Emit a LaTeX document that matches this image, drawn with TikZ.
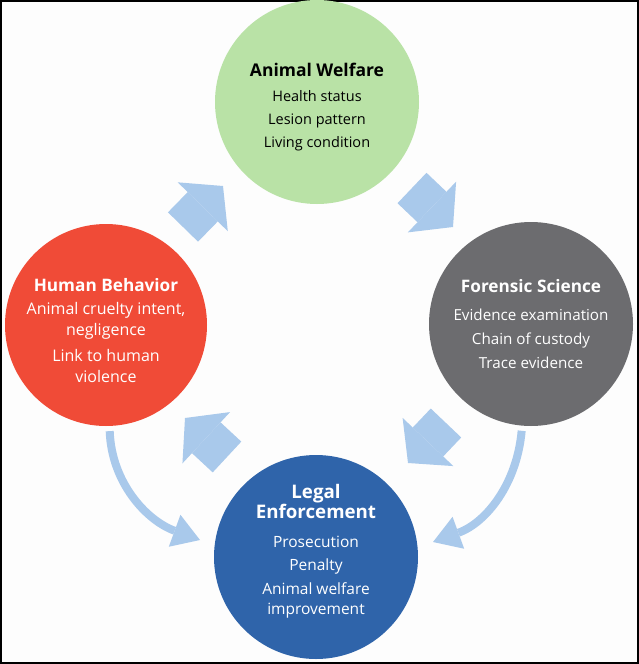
\documentclass[tikz,border=0pt]{standalone}
\usepackage{fontspec}
\setmainfont{Open Sans}
\usetikzlibrary{arrows.meta}
\definecolor{awgreen}{HTML}{B9E2A6}
\definecolor{hbred}{HTML}{F04B37}
\definecolor{fsgray}{HTML}{6C6C6F}
\definecolor{leblue}{HTML}{2F64AA}
\definecolor{arrowblue}{HTML}{A9C9EB}
\definecolor{bgwhite}{HTML}{FDFDFD}
% bold title line of a circle: size, text
\newcommand{\circtitle}[2]{{\bfseries\fontsize{#1}{#1}\selectfont #2}}
\tikzstyle{circ} = [circle, minimum size=204pt, inner sep=0pt, align=center]
\tikzstyle{bigarrow} = [line width=42pt, draw=arrowblue, -{Triangle[length=29pt,width=70pt,line width=0pt]}]
\tikzstyle{curvearrow} = [line width=8pt, draw=arrowblue, -{Triangle[length=27pt,width=34pt,line width=0pt]}]
\begin{document}
\begin{tikzpicture}[x=1pt, y=-1pt]
    \useasboundingbox (0,0) rectangle (639,664);
    \fill [bgwhite] (0,0) rectangle (639,664);
    \draw [line width=2pt] (1,1) rectangle (638,663);

    \node (aw) [circ, fill=awgreen, text=black, font=\fontsize{14.5}{23}\selectfont] at (317,102)
        {\rule{0pt}{23pt}\circtitle{17.5}{Animal Welfare}\\[2pt] Health status\\ Lesion pattern\\ Living condition};
    \node (hb) [circ, fill=hbred, text=white, minimum size=202pt, font=\fontsize{16}{21}\selectfont] at (106,325)
        {\rule{0pt}{24pt}\circtitle{17.2}{Human Behavior}\\[2pt] Animal cruelty intent,\\ negligence\\[5pt] Link to human\\ violence};
    \node (fs) [circ, fill=fsgray, text=white, font=\fontsize{15.2}{24}\selectfont] at (531,324)
        {\circtitle{17.2}{Forensic Science}\\[4pt] Evidence examination\\ Chain of custody\\ Trace evidence};
    \node (le) [circ, fill=leblue, text=white, font=\fontsize{15.5}{20}\selectfont] at (316,557)
        {\circtitle{18.7}{Legal}\\ \circtitle{18.7}{Enforcement}\\[9pt] Prosecution\\[3pt] Penalty\\[4pt] Animal welfare\\ improvement\rule[-15pt]{0pt}{15pt}};

    % block arrows round the cycle
    \coordinate (hb-out) at (183,227);
    \coordinate (aw-in) at (223,186);
    \coordinate (aw-out) at (412,188);
    \coordinate (fs-in) at (453,227);
    \coordinate (fs-out) at (446,423);
    \coordinate (le-in) at (408,463);
    \coordinate (le-out) at (227,457);
    \coordinate (hb-in) at (185,418);
    \draw [bigarrow] (hb-out) -- (aw-in);
    \draw [bigarrow] (aw-out) -- (fs-in);
    \draw [bigarrow] (fs-out) -- (le-in);
    \draw [bigarrow] (le-out) -- (hb-in);

    % curved arrows into legal enforcement
    \coordinate (le-left) at (200,540);
    \coordinate (le-right) at (433,542);
    \draw [curvearrow, shorten <=5pt] (hb) to[out=-88, in=160] (le-left);
    \draw [curvearrow, shorten <=5pt] (fs) to[out=-95, in=20] (le-right);
\end{tikzpicture}
\end{document}
